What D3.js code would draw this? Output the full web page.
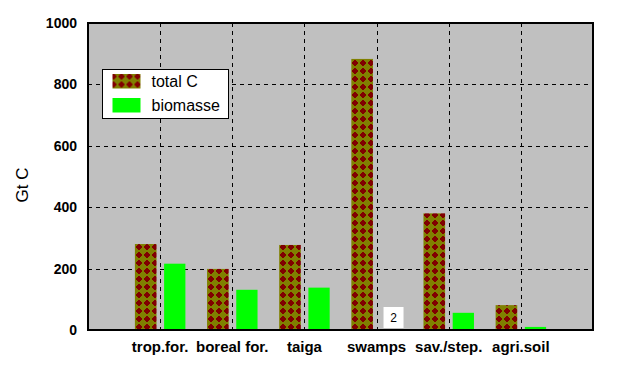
<!DOCTYPE html>
<html>
<head>
<meta charset="utf-8">
<script src="https://cdn.jsdelivr.net/npm/d3@7"></script>
<style>
  body { margin: 0; background: #fff; }
  text { font-family: Arial, "Liberation Sans", sans-serif; }
</style>
</head>
<body>
<div id="chart"></div>
<script>
// Data
var categories = ['trop.for.', 'boreal for.', 'taiga', 'swamps', 'sav./step.', 'agri.soil'];
var totalC = [280, 199, 277, 883, 380, 81];
var biomasse = [216, 131, 138, 2, 56, 10];
var yTicks = [0, 200, 400, 600, 800, 1000];
var seriesNames = ['total C', 'biomasse'];
var labelled = [{ cat: 3, value: '2' }];

var width = 621, height = 371;
var plot = { left: 88, right: 593, top: 23, bottom: 330 };

var svg = d3.select('#chart').append('svg')
  .attr('width', width)
  .attr('height', height);

// scales: categories sit on whole numbers 1..6 of a 0..7 axis
var x = d3.scaleLinear().domain([0, categories.length + 1]).range([plot.left, plot.right]);
var y = d3.scaleLinear().domain([0, 1000]).range([plot.bottom, plot.top]);

const addPattern = () => {
  var p = svg.append('defs').append('pattern')
    .attr('id', 'diamonds')
    .attr('patternUnits', 'userSpaceOnUse')
    .attr('width', 8)
    .attr('height', 8)
    .attr('x', 135)
    .attr('y', 243);
  p.append('rect').attr('width', 8).attr('height', 8).attr('fill', '#808000');
  p.append('path')
    .attr('d', 'M4,0.5 L7.5,4 L4,7.5 L0.5,4 Z')
    .attr('fill', '#800000')
    .attr('shape-rendering', 'crispEdges');
};

const drawFrame = () => {
  svg.append('rect')
    .attr('x', plot.left).attr('y', plot.top)
    .attr('width', plot.right - plot.left)
    .attr('height', plot.bottom - plot.top)
    .attr('fill', '#c0c0c0');

  // dashed grid
  svg.append('g').selectAll('line.h')
    .data(yTicks.filter(d => d > 0 && d < 1000))
    .join('line')
    .attr('x1', plot.left).attr('x2', plot.right)
    .attr('y1', d => Math.round(y(d)) + 0.5).attr('y2', d => Math.round(y(d)) + 0.5)
    .attr('stroke', '#000').attr('stroke-dasharray', '4,4');

  svg.append('g').selectAll('line.v')
    .data(categories)
    .join('line')
    .attr('x1', (d, i) => Math.round(x(i + 1)) + 0.5).attr('x2', (d, i) => Math.round(x(i + 1)) + 0.5)
    .attr('y1', plot.top).attr('y2', plot.bottom)
    .attr('stroke', '#000').attr('stroke-dasharray', '4,4');
};

const drawBars = () => {
  var off = [[-0.35, -0.05], [0.055, 0.35]];
  var fills = ['url(#diamonds)', '#00ff00'];
  [totalC, biomasse].forEach((vals, s) => {
    svg.append('g').selectAll('rect')
      .data(vals)
      .join('rect')
      .attr('x', (d, i) => x(i + 1 + off[s][0]))
      .attr('width', x(off[s][1]) - x(off[s][0]))
      .attr('y', d => y(d))
      .attr('height', d => y(0) - y(d))
      .attr('fill', fills[s]);
  });

  // the small data label on swamps
  labelled.forEach(l => {
    var cx = x(l.cat + 1 + 0.235);
    svg.append('rect')
      .attr('x', cx - 10).attr('y', 307)
      .attr('width', 20).attr('height', 21)
      .attr('fill', '#fff');
    svg.append('text')
      .attr('x', cx).attr('y', 322)
      .attr('text-anchor', 'middle')
      .attr('font-size', 12)
      .text(l.value);
  });
};

const drawAxes = () => {
  svg.append('rect')
    .attr('x', plot.left).attr('y', plot.top)
    .attr('width', plot.right - plot.left)
    .attr('height', plot.bottom - plot.top)
    .attr('fill', 'none')
    .attr('stroke', '#000')
    .attr('stroke-width', 2);

  svg.append('g').selectAll('text')
    .data(yTicks)
    .join('text')
    .attr('x', 77)
    .attr('y', d => y(d) + 5)
    .attr('text-anchor', 'end')
    .attr('font-size', 14)
    .attr('font-weight', 'bold')
    .text(d => d);

  svg.append('g').selectAll('text')
    .data(categories)
    .join('text')
    .attr('x', (d, i) => x(i + 1))
    .attr('y', 352)
    .attr('text-anchor', 'middle')
    .attr('font-size', 15)
    .attr('font-weight', 'bold')
    .text(d => d);

  svg.append('text')
    .attr('transform', 'translate(28,185) rotate(-90)')
    .attr('text-anchor', 'middle')
    .attr('font-size', 17)
    .text('Gt C');
};

const drawLegend = () => {
  var g = svg.append('g').attr('transform', 'translate(102.5,69.5)');
  g.append('rect')
    .attr('width', 126).attr('height', 49)
    .attr('fill', '#fff').attr('stroke', '#000');
  var fills = ['url(#diamonds)', '#00ff00'];
  seriesNames.forEach((n, i) => {
    g.append('rect')
      .attr('x', 10).attr('y', 4.5 + i * 24)
      .attr('width', 28).attr('height', 14.5)
      .attr('fill', fills[i]);
    g.append('text')
      .attr('x', 49).attr('y', 17.5 + i * 24)
      .attr('font-size', 16)
      .text(n);
  });
};

addPattern();
drawFrame();
drawBars();
drawAxes();
drawLegend();
</script>
</body>
</html>
